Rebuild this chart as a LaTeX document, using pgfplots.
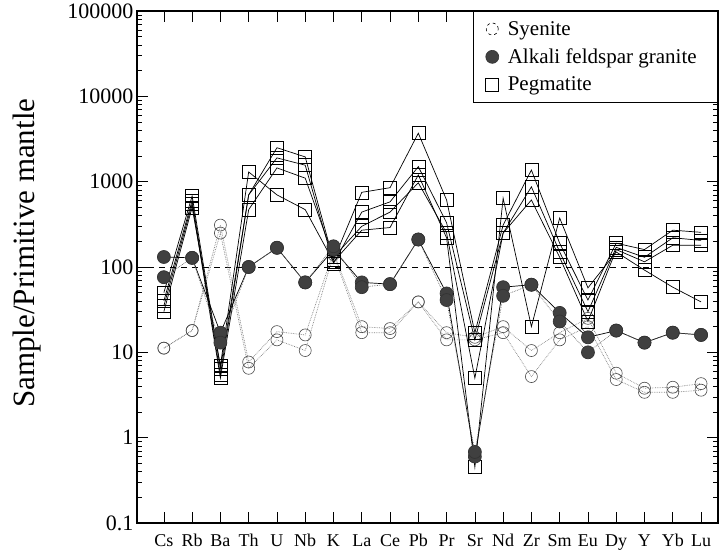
\documentclass[border=0pt]{standalone}
\usepackage{pgfplots}
\pgfplotsset{compat=1.18}
\usepackage{pgfplotstable}
\usepackage{fontspec}
\setmainfont{Liberation Serif}

% Pegmatite samples
\pgfplotstableread{
x p1 p2 p3 p4
0 50 40 35 30
1 680 600 550 500
2 6.5 5.5 5 7
3 700 700 470 1300
4 2500 1900 1450 700
5 1950 1560 1100 470
6 120 110 130 115
7 750 440 300 270
8 850 580 440 290
9 3700 1500 970 1200
10 610 330 250 220
11 17 14 5 0.45
12 310 250 250 640
13 1370 870 610 20
14 190 150 130 375
15 41 30 23 57
16 190 170 160 150
17 160 130 115 92
18 270 220 180 58
19 255 205 180 39
}\pegtab

% Alkali feldspar granite samples
\pgfplotstableread{
x g1 g2
0 131 76
1 128 128
2 17 13
3 100 100
4 168 168
5 66 66
6 160 175
7 66 58
8 63 63
9 210 210
10 49 41
11 0.6 0.68
12 58 46
13 62 62
14 29 23
15 15 10
16 18 18
17 13 13
18 17 17
19 16 16
}\gratab

% Syenite samples
\pgfplotstableread{
x s1 s2
0 11.2 11.2
1 18 18
2 310 250
3 7.7 6.5
4 17.5 14
5 16 10.5
6 150 140
7 20 17
8 19 17
9 39 39
10 17 14
11 15 14
12 20 17
13 10.5 5.2
14 17 14
15 25 20
16 5.7 4.8
17 3.8 3.4
18 3.9 3.4
19 4.3 3.6
}\syetab

\begin{document}
\begin{tikzpicture}
\begin{axis}[
  scale only axis,
  width=581pt, height=512pt,
  ymode=log, ymin=0.1, ymax=100000,
  xmin=-0.95, xmax=19.6,
  xtick={0,...,19},
  xticklabels={Cs,Rb,Ba,Th,U,Nb,K,La,Ce,Pb,Pr,Sr,Nd,Zr,Sm,Eu,Dy,Y,Yb,Lu},
  ytick={0.1,1,10,100,1000,10000,100000},
  yticklabels={0.1,1,10,100,1000,10000,100000},
  tick align=inside,
  major tick length=11pt, minor tick length=5pt,
  every tick/.style={black, line width=0.7pt},
  axis line style={line width=1.1pt},
  xticklabel style={font=\fontsize{18}{21}\selectfont, text height=12pt, text depth=3pt, yshift=-8pt},
  yticklabel style={font=\fontsize{22}{26}\selectfont},
  ylabel={Sample/Primitive mantle},
  ylabel style={font=\fontsize{31}{36}\selectfont, at={(axis description cs:-0.19,0.527)}, anchor=center},
  legend style={at={(rel axis cs:1,1)}, anchor=north east, draw=black, line width=0.6pt,
    fill=white, font=\fontsize{21}{25}\selectfont, row sep=8pt, inner xsep=12pt, inner ysep=8pt,
    nodes={inner xsep=9pt}},
  legend cell align=left,
  clip=false,
]
\coordinate (bl) at (rel axis cs:0,0);
\coordinate (tr) at (rel axis cs:1,1);

\addlegendimage{only marks, mark=o, mark size=6pt, mark options={black, dashed, line width=0.6pt}}
\addlegendentry{Syenite}
\addlegendimage{only marks, mark=*, mark size=6.5pt, mark options={draw=black!80, fill=black!75}}
\addlegendentry{Alkali feldspar granite}
\addlegendimage{only marks, mark=square, mark size=6.5pt, mark options={black, line width=0.6pt}}
\addlegendentry{Pegmatite}

% reference line at 100
\addplot[black, line width=0.9pt, dash pattern=on 6pt off 5pt, forget plot] coordinates {(-0.95,100) (19.6,100)};

% Syenite
\addplot[gray, line width=0.7pt, densely dotted, mark=o, mark size=6pt,
  mark options={solid, draw=black!70, line width=0.6pt}, forget plot] table[x=x,y=s1]{\syetab};
\addplot[gray, line width=0.7pt, densely dotted, mark=o, mark size=6pt,
  mark options={solid, draw=black!70, line width=0.6pt}, forget plot] table[x=x,y=s2]{\syetab};

% Pegmatite
\addplot[black, line width=0.7pt, mark=square, mark size=6.5pt, mark options={solid, line width=0.6pt}, forget plot] table[x=x,y=p1]{\pegtab};
\addplot[black, line width=0.7pt, mark=square, mark size=6.5pt, mark options={solid, line width=0.6pt}, forget plot] table[x=x,y=p2]{\pegtab};
\addplot[black, line width=0.7pt, mark=square, mark size=6.5pt, mark options={solid, line width=0.6pt}, forget plot] table[x=x,y=p3]{\pegtab};
\addplot[black, line width=0.7pt, mark=square, mark size=6.5pt, mark options={solid, line width=0.6pt}, forget plot] table[x=x,y=p4]{\pegtab};

% Alkali feldspar granite
\addplot[black, line width=0.7pt, mark=*, mark size=6.5pt, mark options={solid, draw=black!80, fill=black!75}, forget plot] table[x=x,y=g1]{\gratab};
\addplot[black!60, line width=0.7pt, densely dotted, mark=*, mark size=6.5pt, mark options={solid, draw=black!80, fill=black!75}, forget plot] table[x=x,y=g2]{\gratab};
\end{axis}
\pgfresetboundingbox
\useasboundingbox ([xshift=-137pt,yshift=-34pt]bl) rectangle ([xshift=6pt,yshift=11pt]tr);
\end{tikzpicture}
\end{document}
